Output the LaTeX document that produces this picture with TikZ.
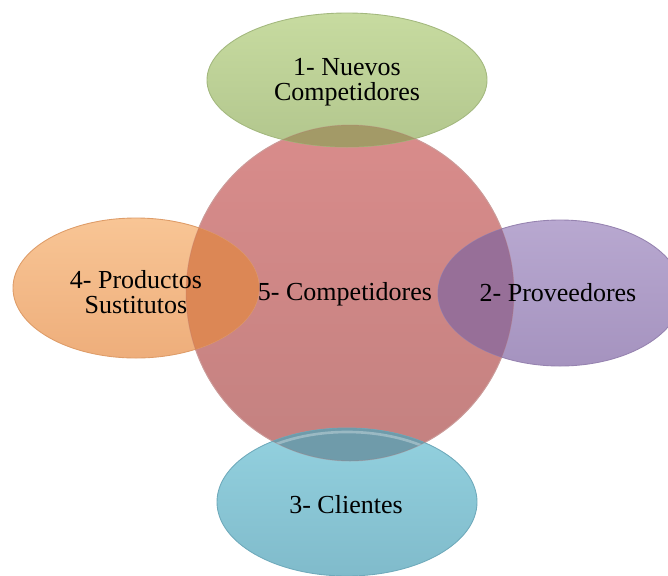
\documentclass[tikz,border=0pt]{standalone}
\usepackage{fontspec}
\setmainfont{Liberation Serif}
\usepackage{xcolor}
\usepackage{tikz}
\usetikzlibrary{
	calc,
	shapes.geometric,
	positioning
}
\definecolor{RojoA}{HTML}{D98C8B}
\definecolor{RojoB}{HTML}{C38180}
\definecolor{RojoD}{HTML}{B87472}
\definecolor{VerdeA}{HTML}{C7DBA0}
\definecolor{VerdeB}{HTML}{B2C68D}
\definecolor{VerdeD}{HTML}{A3B87E}
\definecolor{NaranjaA}{HTML}{F8C595}
\definecolor{NaranjaB}{HTML}{EEAE7B}
\definecolor{NaranjaD}{HTML}{DE9C68}
\definecolor{MoradoA}{HTML}{B8A8D0}
\definecolor{MoradoB}{HTML}{A593BF}
\definecolor{MoradoD}{HTML}{9683B0}
\definecolor{AzulA}{HTML}{93D1DF}
\definecolor{AzulB}{HTML}{80BBCB}
\definecolor{AzulD}{HTML}{6FAABB}
\definecolor{CruceVerde}{HTML}{A39A67}
\definecolor{CruceNaranja}{HTML}{DC8755}
\definecolor{CruceMorado}{HTML}{976F98}
\definecolor{CruceAzul}{HTML}{6F9BAA}
\tikzset{
	etiqueta/.style={align=center, inner sep=0pt, text=black,
		font=\fontsize{14.8}{14.5}\selectfont},
	borde/.style={line width=0.5pt},
	brillo/.style={white, opacity=0.3, line width=1.5pt}
}

\begin{document}
\begin{tikzpicture}[x=0.02cm, y=-0.02cm]
	\useasboundingbox (0,0) rectangle (668,575);
	\clip (0,0) rectangle (668,575);
	% centres of the five forces
	\coordinate (C) at (350,293);
	\coordinate (N) at (347,80);
	\coordinate (P) at (136,288);
	\coordinate (V) at (560,293);
	\coordinate (K) at (347,502);
	% central circle
	\shade[top color=RojoA, bottom color=RojoB, draw=RojoD!60, borde]
		(C) circle [x radius=164, y radius=168];
	% surrounding ellipses
	\shade[top color=VerdeA, bottom color=VerdeB, draw=VerdeD, borde]
		(N) circle [x radius=140, y radius=67];
	\shade[top color=NaranjaA, bottom color=NaranjaB, draw=NaranjaD, borde]
		(P) circle [x radius=123, y radius=70];
	\shade[top color=MoradoA, bottom color=MoradoB, draw=MoradoD, borde]
		(V) circle [x radius=122, y radius=73];
	\shade[top color=AzulA, bottom color=AzulB, draw=AzulD, borde]
		(K) circle [x radius=130, y radius=74];
	% overlaps with the central circle
	\begin{scope}
		\clip (C) circle [x radius=164, y radius=168];
		\fill[CruceVerde] (N) circle [x radius=140, y radius=67];
		\fill[CruceNaranja] (P) circle [x radius=123, y radius=70];
		\fill[CruceMorado] (V) circle [x radius=122, y radius=73];
		\fill[CruceAzul] (K) circle [x radius=130, y radius=74];
		% light rim just under the top edge of the lower ellipse
		\draw[brillo] (K) ++(205:126 and 70) arc [start angle=205, end angle=335, x radius=126, y radius=70];
	\end{scope}
	\draw[RojoD, opacity=0.3, borde] (C) circle [x radius=164, y radius=168];
	% labels
	\node[etiqueta] (nuevos) at (347,82) {1- Nuevos\\Competidores};
	\node[etiqueta] (sustitutos) at (136,292) {4- Productos\\Sustitutos};
	\node[etiqueta] (competidores) at (345,294) {5- Competidores};
	\node[etiqueta] (proveedores) at (558,293) {2- Proveedores};
	\node[etiqueta] (clientes) at (346,505) {3- Clientes};
\end{tikzpicture}
\end{document}
